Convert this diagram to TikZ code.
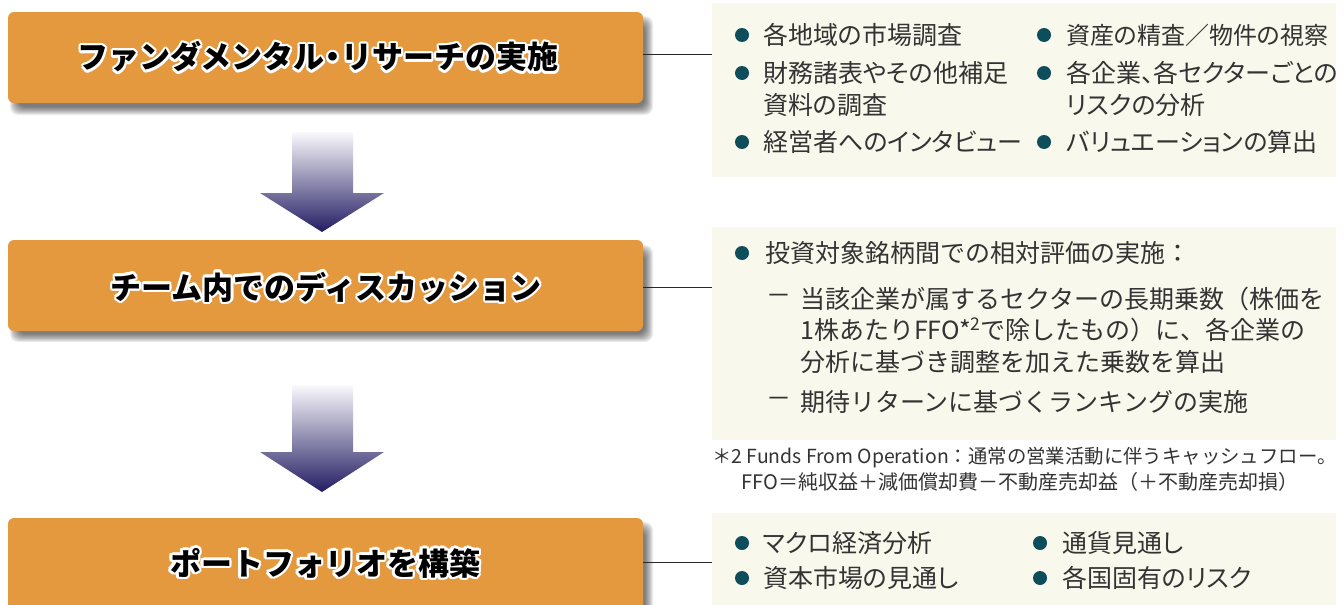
\documentclass[tikz,border=0pt]{standalone}
\usepackage{fontspec}
\setmainfont{Noto Sans CJK JP}
\newfontfamily\bodyfont{Noto Sans CJK JP}[RawFeature=+palt]
\newfontfamily\bodyfontfw{Noto Sans CJK JP}
\usetikzlibrary{calc}
\definecolor{boxorange}{HTML}{E5993F}
\definecolor{panelbg}{HTML}{F8F8EC}
\definecolor{bulletcol}{HTML}{0E4E5B}
\definecolor{bodytext}{HTML}{333333}
\definecolor{arrowtop}{HTML}{FAF9FC}
\definecolor{arrowbot}{HTML}{231D63}
\tikzset{
  obox/.style={fill=boxorange, rounded corners=6pt, minimum width=635pt, minimum height=91pt, inner sep=0pt},
  panel/.style={fill=panelbg, inner sep=0pt, anchor=north west},
  body/.style={anchor=west, inner sep=0pt, text=bodytext, font=\bodyfont\fontsize{25}{30}\selectfont},
  bodyfw/.style={anchor=west, inner sep=0pt, text=bodytext, font=\bodyfontfw\fontsize{25}{30}\selectfont},
  note/.style={inner sep=0pt, text=bodytext, font=\bodyfontfw\fontsize{20}{24}\selectfont},
  dot/.style={circle, fill=bulletcol, minimum size=14pt, inner sep=0pt},
  link/.style={draw=black!85, line width=1pt},
  titletext/.style={font=\fontsize{31}{36}\selectfont\bfseries, inner sep=0pt},
  blockarrow/.style={top color=arrowtop, bottom color=arrowbot, shading=axis},
}
\newcommand\boxshadow[4]{%
  \foreach \e in {-4,...,4}{%
    \fill[black, opacity=0.075, rounded corners=8pt] ({#1+6-\e},{#2+8-\e}) rectangle ({#3+6+\e},{#4+8+\e});
  }%
}
% title with a white outline: white copies around the black text
\newcommand\halotitle[3]{%
  \foreach \a in {0,30,...,330}{\node[titletext, text=white] at ($(#2)+(\a:2.4pt)$) {#3};}%
  \node[titletext, text=black] (#1) at (#2) {#3};
}
\begin{document}
\begin{tikzpicture}[x=1pt,y=-1pt]
\useasboundingbox (0,0) rectangle (1344,605);
\fill[white] (0,0) rectangle (1344,605);

% shadows
\boxshadow{8}{12}{643}{103}
\boxshadow{8}{241}{643}{330}
\boxshadow{8}{518}{643}{609}

% boxes
\node[obox] (b1) at (325.5,57.5) {};
\node[obox] (b2) at (325.5,285.5) {};
\node[obox, minimum height=95pt] (b3) at (325.5,565.5) {};

\halotitle{t1}{318,57}{ファンダメンタル{\kern-7pt}・{\kern-7pt}リサーチの実施}
\halotitle{t2}{326,287}{チーム内でのディスカッション}
\halotitle{t3}{325,563}{ポートフォリオを構築}

% block arrows
\shade[blockarrow] (292,132) -- (353,132) -- (353,193) -- (384,193) -- (322,232) -- (260,193) -- (292,193) -- cycle;
\shade[blockarrow] (292,385) -- (353,385) -- (353,452) -- (384,452) -- (322,492) -- (260,452) -- (292,452) -- cycle;

% panels
\node[panel, minimum width=624pt, minimum height=174pt] (p1) at (712,3) {};
\node[panel, minimum width=624pt, minimum height=213pt] (p2) at (712,227) {};
\node[panel, minimum width=624pt, minimum height=92pt] (p3) at (712,513) {};

% links
\draw[link] (b1.east |- 0,54) coordinate (l1a) -- (l1a -| p1.west);
\draw[link] (b2.east |- 0,287) coordinate (l2a) -- (l2a -| p2.west);
\draw[link] (b3.east |- 0,562) coordinate (l3a) -- (l3a -| p3.west);

% panel 1
\node[dot] (d11) at (742,35) {};
\node[body] (x11) at (763,35) {各地域の市場調査};
\node[dot] (d12) at (1044,35) {};
\node[body, font=\bodyfont\fontsize{24}{30}\selectfont] (x12) at (1066,35) {資産の精査／物件の視察};
\node[dot] (d13) at (742,73) {};
\node[body] (x13) at (763,73) {財務諸表やその他補足};
\node[body] (x13b) at (763,105) {資料の調査};
\node[dot] (d14) at (1044,73) {};
\node[body] (x14) at (1066,73) {各企業、各セクターごとの};
\node[body] (x14b) at (1066,105) {リスクの分析};
\node[dot] (d15) at (742,142) {};
\node[body] (x15) at (763,142) {経営者へのインタビュー};
\node[dot] (d16) at (1044,142) {};
\node[body] (x16) at (1066,142) {バリュエーションの算出};

% panel 2
\node[dot] (d21) at (742,253) {};
\node[bodyfw] (x21) at (765,253) {投資対象銘柄間での相対評価の実施：};
\node[bodyfw] (m21) at (766,299) {－};
\node[bodyfw] (x22) at (800,299) {当該企業が属するセクターの長期乗数（株価を};
\node[bodyfw] (x23) at (800,330) {1株あたりFFO*\textsuperscript{2}で除したもの）に、各企業の};
\node[bodyfw] (x24) at (800,362) {分析に基づき調整を加えた乗数を算出};
\node[bodyfw] (m22) at (766,402) {－};
\node[bodyfw] (x25) at (800,402) {期待リターンに基づくランキングの実施};

% footnote
\node[note, anchor=west, font=\bodyfontfw\fontsize{19.4}{24}\selectfont] (f1) at (712,458) {＊2 Funds From Operation：通常の営業活動に伴うキャッシュフロー。};
\node[note] (f2) at (1020,482) {FFO＝純収益＋減価償却費－不動産売却益（＋不動産売却損）};

% panel 3
\node[dot] (d31) at (742,543) {};
\node[body] (x31) at (763,543) {マクロ経済分析};
\node[dot] (d32) at (1040,543) {};
\node[body] (x32) at (1062,543) {通貨見通し};
\node[dot] (d33) at (742,578) {};
\node[body] (x33) at (763,578) {資本市場の見通し};
\node[dot] (d34) at (1040,578) {};
\node[body] (x34) at (1062,578) {各国固有のリスク};
\end{tikzpicture}
\end{document}
